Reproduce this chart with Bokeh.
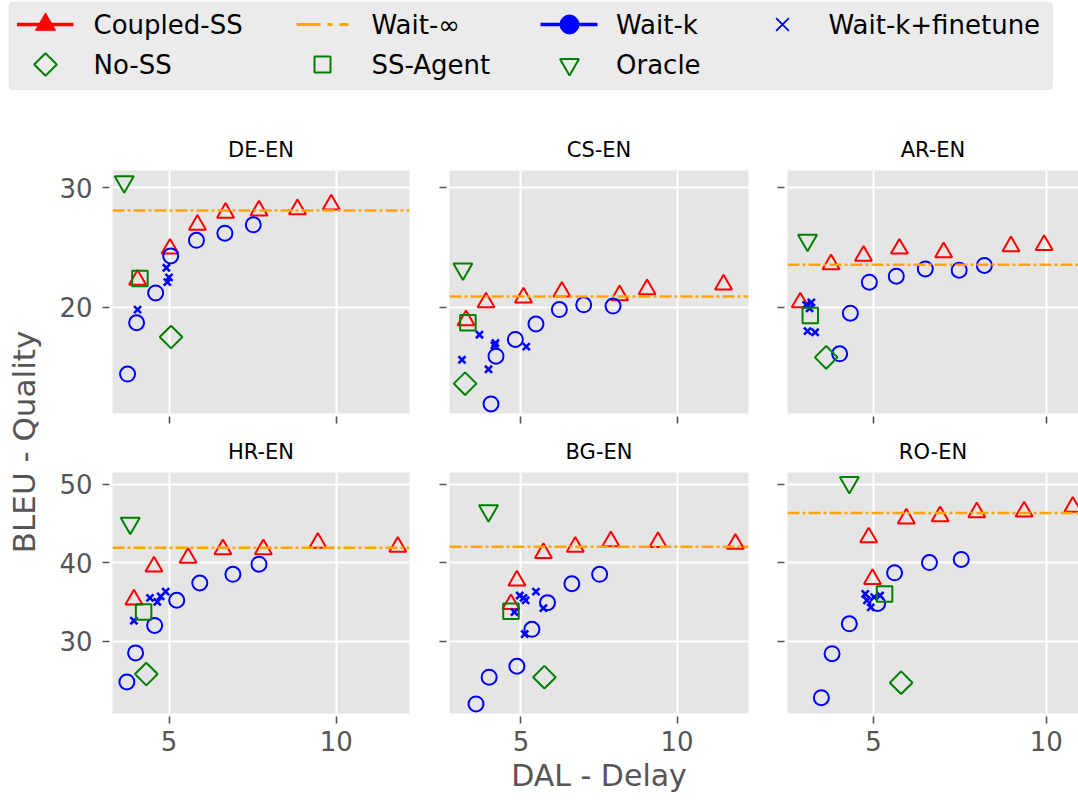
import math
from bokeh.plotting import figure
from bokeh.layouts import column, row
from bokeh.models import Range1d, FixedTicker, Span, BoxAnnotation, CustomJSTickFormatter
from bokeh.core.properties import value
from bokeh.embed import file_html
from bokeh.resources import INLINE

# ---------------- data ----------------
PANELS = ["DE-EN", "CS-EN", "AR-EN", "HR-EN", "BG-EN", "RO-EN"]

COUPLED_DAL = {
    "DE-EN": [4.06, 5.03, 5.85, 6.69, 7.69, 8.84, 9.85],
    "CS-EN": [3.24, 3.88, 5.08, 6.31, 8.16, 9.04, 11.49],
    "AR-EN": [2.88, 3.77, 4.71, 5.75, 7.03, 8.98, 9.94],
    "HR-EN": [3.95, 4.55, 5.57, 6.61, 7.82, 9.45, 11.84],
    "BG-EN": [4.68, 4.87, 5.72, 6.74, 7.88, 9.39, 11.87],
    "RO-EN": [4.97, 4.86, 5.95, 6.93, 7.99, 9.36, 10.77],
}
COUPLED_BLEU = {
    "DE-EN": [22.3, 24.9, 26.9, 27.9, 28.1, 28.2, 28.6],
    "CS-EN": [18.9, 20.4, 20.8, 21.3, 21.0, 21.5, 21.9],
    "AR-EN": [20.4, 23.6, 24.3, 24.9, 24.6, 25.1, 25.2],
    "HR-EN": [35.3, 39.5, 40.6, 41.7, 41.7, 42.5, 42.0],
    "BG-EN": [34.7, 37.7, 41.2, 42.0, 42.7, 42.6, 42.4],
    "RO-EN": [37.9, 43.2, 45.6, 45.9, 46.4, 46.5, 47.1],
}
WAITK_DAL = {
    "DE-EN": [3.76, 4.03, 4.60, 5.05, 5.82, 6.67, 7.52],
    "CS-EN": [4.04, 4.20, 4.82, 5.48, 6.23, 7.01, 7.95],
    "AR-EN": [4.02, 4.33, 4.88, 5.66, 6.50, 7.48, 8.21],
    "HR-EN": [3.74, 4.00, 4.57, 5.23, 5.92, 6.91, 7.69],
    "BG-EN": [3.56, 3.98, 4.87, 5.35, 5.85, 6.63, 7.52],
    "RO-EN": [3.49, 3.80, 4.30, 5.12, 5.61, 6.62, 7.54],
}
WAITK_BLEU = {
    "DE-EN": [14.4, 18.7, 21.2, 24.3, 25.6, 26.2, 26.9],
    "CS-EN": [11.9, 15.9, 17.3, 18.6, 19.8, 20.2, 20.1],
    "AR-EN": [16.1, 19.5, 22.1, 22.6, 23.2, 23.1, 23.5],
    "HR-EN": [24.8, 28.5, 32.0, 35.2, 37.4, 38.5, 39.8],
    "BG-EN": [22.0, 25.4, 26.8, 31.5, 34.9, 37.3, 38.5],
    "RO-EN": [22.8, 28.4, 32.2, 34.8, 38.7, 40.0, 40.4],
}
FT_DAL = {
    "DE-EN": [4.06, 4.92, 5.00, 4.95],
    "CS-EN": [3.11, 3.67, 4.18, 4.15, 3.96, 5.17],
    "AR-EN": [3.05, 3.20, 3.15, 3.09, 3.31],
    "HR-EN": [3.95, 4.43, 4.65, 4.75, 4.90],
    "BG-EN": [4.79, 4.96, 5.08, 5.15, 5.48, 5.72, 5.12],
    "RO-EN": [4.76, 4.81, 4.92, 5.02, 5.19],
}
FT_BLEU = {
    "DE-EN": [19.8, 23.3, 22.5, 22.1],
    "CS-EN": [15.6, 17.7, 17.0, 16.8, 14.8, 16.7],
    "AR-EN": [20.2, 20.4, 19.9, 18.0, 17.9],
    "HR-EN": [32.6, 35.5, 35.0, 35.7, 36.3],
    "BG-EN": [33.7, 35.8, 35.5, 35.2, 36.3, 34.2, 30.9],
    "RO-EN": [36.0, 35.2, 34.3, 35.6, 35.8],
}
NOSS_DAL = {"DE-EN": [5.06], "CS-EN": [3.21], "AR-EN": [3.63], "HR-EN": [4.32], "BG-EN": [5.75], "RO-EN": [5.80]}
NOSS_BLEU = {"DE-EN": [17.5], "CS-EN": [13.6], "AR-EN": [15.8], "HR-EN": [25.8], "BG-EN": [25.4], "RO-EN": [24.7]}
AGENT_DAL = {"DE-EN": [4.13], "CS-EN": [3.30], "AR-EN": [3.17], "HR-EN": [4.24], "BG-EN": [4.68], "RO-EN": [5.32]}
AGENT_BLEU = {"DE-EN": [22.4], "CS-EN": [18.7], "AR-EN": [19.3], "HR-EN": [33.7], "BG-EN": [33.8], "RO-EN": [36.0]}
ORACLE_DAL = {"DE-EN": [3.66], "CS-EN": [3.14], "AR-EN": [3.09], "HR-EN": [3.84], "BG-EN": [3.96], "RO-EN": [4.30]}
ORACLE_BLEU = {"DE-EN": [30.5], "CS-EN": [23.2], "AR-EN": [25.6], "HR-EN": [45.0], "BG-EN": [46.6], "RO-EN": [50.2]}
WAITINF_BLEU = {"DE-EN": 28.1, "CS-EN": 20.9, "AR-EN": 23.55, "HR-EN": 41.9, "BG-EN": 42.0, "RO-EN": 46.3}

X_TICKS = [5, 10]
Y_TICKS_TOP = [20, 30]
Y_TICKS_BOTTOM = [30, 40, 50]
LEGEND_LABELS = ["Coupled-SS", "Wait-∞", "Wait-k", "Wait-k+finetune", "No-SS", "SS-Agent", "Oracle"]
X_LABEL = "DAL - Delay"
Y_LABEL = "BLEU - Quality"

# ---------------- style / layout ----------------
FONT = "DejaVu Sans"
RED, BLUE, GREEN, ORANGE = "#FF0000", "#0000FF", "#008000", "#FFA500"
GREY_TXT = "#555555"
PANEL_BG = "#E5E5E5"

X_RANGES = [(3.31, 12.19), (2.71, 12.29), (2.51, 10.935)]
Y_RANGES = [(11.1, 31.45), (20.78, 51.47)]
FRAME_W = [297, 299, 291]
BORDER_LR = [(64, 15), (25, 14), (25, 0)]
FRAME_H = [243, 241]
BORDER_TB = [(66, 12), (47, 87)]
TITLE_STANDOFF = [17, 18]
Y_TICKS = [Y_TICKS_TOP, Y_TICKS_BOTTOM]
LEG_H = 104
YLAB_W = 48


def style_axis(ax, show_labels, standoff):
    ax.axis_line_color = None
    ax.major_tick_line_color = GREY_TXT
    ax.major_tick_line_width = 1.6
    ax.major_tick_in = -3
    ax.major_tick_out = 10
    ax.minor_tick_line_color = None
    ax.major_label_text_font = FONT
    ax.major_label_text_color = GREY_TXT
    if show_labels:
        ax.major_label_text_font_size = "26px"
        ax.major_label_standoff = standoff
    else:
        ax.formatter = CustomJSTickFormatter(code="return ''")
        ax.major_label_text_font_size = "0px"
        ax.major_label_standoff = 0


def make_panel(idx):
    name = PANELS[idx]
    r, c = divmod(idx, 3)
    bl, br = BORDER_LR[c]
    bt, bb = BORDER_TB[r]
    p = figure(width=bl + FRAME_W[c] + br, height=bt + FRAME_H[r] + bb,
               x_range=Range1d(*X_RANGES[c]), y_range=Range1d(*Y_RANGES[r]),
               output_backend="svg", toolbar_location=None, title=name,
               min_border_left=bl, min_border_right=br,
               min_border_top=bt, min_border_bottom=bb)
    p.background_fill_color = PANEL_BG
    p.border_fill_color = "white"
    p.outline_line_color = None
    p.title.align = "center"
    p.title.text_font = FONT
    p.title.text_font_size = "21px"
    p.title.text_font_style = "normal"
    p.title.text_color = "black"
    p.title.standoff = TITLE_STANDOFF[r]

    p.xaxis.ticker = FixedTicker(ticks=X_TICKS)
    p.yaxis.ticker = FixedTicker(ticks=Y_TICKS[r])
    for g in (p.xgrid[0], p.ygrid[0]):
        g.grid_line_color = "white"
        g.grid_line_width = 2
    style_axis(p.xaxis[0], r == 1, 7)
    style_axis(p.yaxis[0], c == 0, 10)
    if r == 1 and c == 1:
        ax = p.xaxis[0]
        ax.axis_label = X_LABEL
        ax.axis_label_text_font = FONT
        ax.axis_label_text_font_size = "30px"
        ax.axis_label_text_font_style = "normal"
        ax.axis_label_text_color = GREY_TXT
        ax.axis_label_standoff = 4

    span = Span(location=WAITINF_BLEU[name], dimension="width", line_color=ORANGE,
                line_width=2.5, line_dash="12 3 3 3", level="glyph")
    p.add_layout(span)

    p.scatter(COUPLED_DAL[name], COUPLED_BLEU[name], marker="triangle", size=17,
              fill_color=None, line_color=RED, line_width=2)
    p.scatter(WAITK_DAL[name], WAITK_BLEU[name], marker="circle", size=15,
              fill_color=None, line_color=BLUE, line_width=2)
    p.scatter(FT_DAL[name], FT_BLEU[name], marker="x", size=10,
              line_color=BLUE, line_width=2.6)
    p.scatter(NOSS_DAL[name], NOSS_BLEU[name], marker="square", angle=math.pi / 4, size=16,
              fill_color=None, line_color=GREEN, line_width=2)
    p.scatter(AGENT_DAL[name], AGENT_BLEU[name], marker="square", size=15.5,
              fill_color=None, line_color=GREEN, line_width=2)
    p.scatter(ORACLE_DAL[name], ORACLE_BLEU[name], marker="inverted_triangle", size=19,
              fill_color=None, line_color=GREEN, line_width=2)
    return p


def bare(width, height):
    f = figure(width=width, height=height, x_range=Range1d(0, width), y_range=Range1d(0, height),
               output_backend="svg", toolbar_location=None, min_border=0)
    f.xaxis.visible = False
    f.yaxis.visible = False
    f.xgrid.visible = False
    f.ygrid.visible = False
    f.outline_line_color = None
    f.background_fill_color = "white"
    f.border_fill_color = "white"
    return f


# ---------------- legend strip (y measured downward from the top) ----------------
LW = 1078
leg = bare(LW, LEG_H)


def ly(y_from_top):
    return LEG_H - y_from_top


leg.add_layout(BoxAnnotation(left=8.5, right=1052, bottom=ly(89), top=ly(1.7), fill_color="#EBEBEB",
                             fill_alpha=1, line_color="#CCCCCC", line_width=1, border_radius=4,
                             level="underlay"))
R1, R2 = ly(24), ly(64)
leg.line([16.5, 73], [R1, R1], line_color=RED, line_width=3.5)
leg.scatter([45], [R1], marker="triangle", size=20, fill_color=RED, line_color=RED)
leg.line([296, 348], [R1, R1], line_color=ORANGE, line_width=3, line_dash="24 7 5 7")
leg.line([540, 597], [R1, R1], line_color=BLUE, line_width=3.5)
leg.scatter([569], [R1], marker="circle", size=19, fill_color=BLUE, line_color=BLUE)
leg.scatter([782], [R1], marker="x", size=18, line_color=BLUE, line_width=1.8)
leg.scatter([45], [R2], marker="square", angle=math.pi / 4, size=16, fill_color=None,
            line_color=GREEN, line_width=2)
leg.scatter([322], [R2], marker="square", size=16, fill_color=None, line_color=GREEN, line_width=2)
leg.scatter([569], [R2], marker="inverted_triangle", size=19, fill_color=None,
            line_color=GREEN, line_width=2)
leg.text(x=[93, 371, 615.5, 828, 93, 371, 615.5], y=[R1, R1, R1, R1, R2, R2, R2],
         text=LEGEND_LABELS, text_font=value(FONT), text_font_size="26px",
         text_baseline="middle", text_align="left", text_color="black")

# ---------------- y label strip: an axis whose label spans both rows ----------------
top_h = BORDER_TB[0][0] + FRAME_H[0] + BORDER_TB[0][1]
ylab = figure(width=YLAB_W, height=top_h + BORDER_TB[1][0] + FRAME_H[1] + BORDER_TB[1][1],
              x_range=Range1d(0, 1), y_range=Range1d(0, 1),
              output_backend="svg", toolbar_location=None,
              min_border_left=YLAB_W - 1, min_border_right=0,
              min_border_top=BORDER_TB[0][0], min_border_bottom=BORDER_TB[1][1])
ylab.xaxis.visible = False
ylab.xgrid.visible = False
ylab.ygrid.visible = False
ylab.outline_line_color = None
ylab.background_fill_color = "white"
ylab.border_fill_color = "white"
ya = ylab.yaxis[0]
ya.ticker = FixedTicker(ticks=[])
ya.axis_line_color = None
ya.major_tick_line_color = None
ya.minor_tick_line_color = None
ya.major_tick_out = 0
ya.major_tick_in = 0
ya.major_label_standoff = 0
ya.major_label_text_font_size = "0px"
ya.axis_label = Y_LABEL
ya.axis_label_text_font = FONT
ya.axis_label_text_font_size = "31px"
ya.axis_label_text_font_style = "normal"
ya.axis_label_text_color = GREY_TXT
ya.axis_label_standoff = 6

panels = [make_panel(i) for i in range(6)]
grid = column(row(*panels[:3]), row(*panels[3:]))
layout = column(leg, row(ylab, grid))

open("out.html", "w").write(file_html(layout, INLINE))
